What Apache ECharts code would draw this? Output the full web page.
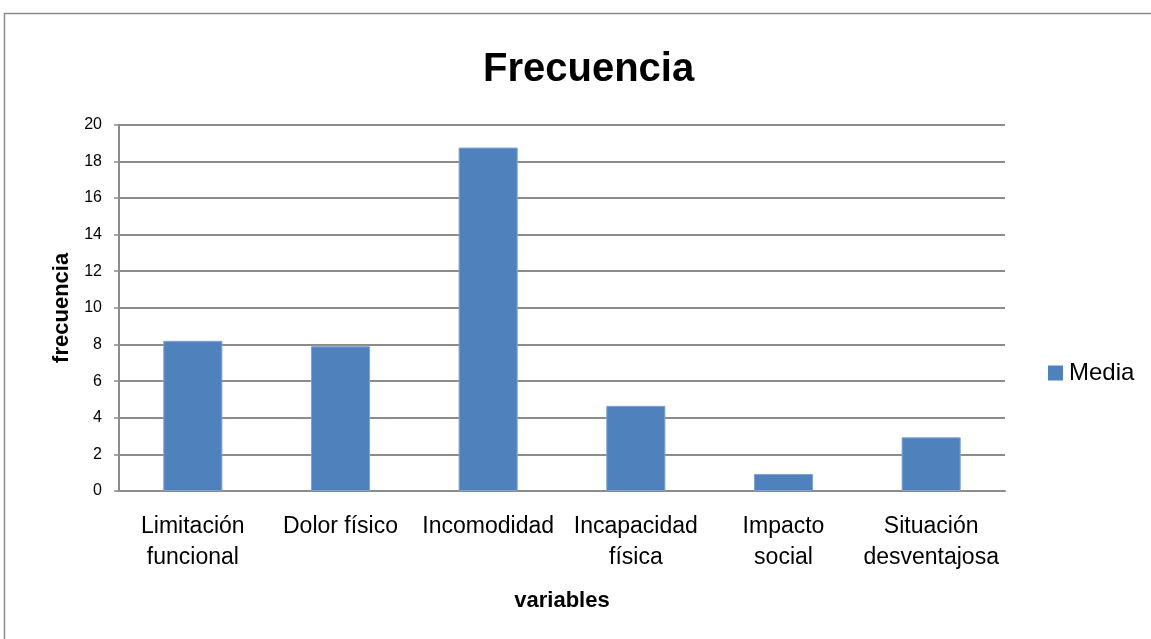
<!DOCTYPE html>
<html>
<head>
<meta charset="utf-8">
<script src="https://cdn.jsdelivr.net/npm/echarts@6/dist/echarts.min.js"></script>
<style>
  html, body { margin: 0; padding: 0; background: #ffffff; }
  #chart { width: 1151px; height: 639px; }
</style>
</head>
<body>
<div id="chart"></div>
<script>
// Categories and mean frequency per variable
const categories = [
  'Limitación\nfuncional',
  'Dolor físico',
  'Incomodidad',
  'Incapacidad\nfísica',
  'Impacto\nsocial',
  'Situación\ndesventajosa'
];
const media = [8.2, 7.9, 18.75, 4.65, 0.93, 2.93];
const seriesName = 'Media';
const yTicks = { min: 0, max: 20, interval: 2 };

const FONT = '"Liberation Sans", Arial, sans-serif';
const chart = echarts.init(document.getElementById('chart'), null, { renderer: 'canvas' });

chart.setOption({
  animation: false,
  backgroundColor: '#ffffff',
  textStyle: { fontFamily: FONT },
  graphic: [{
    type: 'rect',
    shape: { x: 4.5, y: 13.5, width: 1300, height: 800 },
    style: { fill: 'none', stroke: '#8c8c8c', lineWidth: 1.5 },
    silent: true
  }],
  title: {
    text: 'Frecuencia',
    left: 478,
    top: 45,
    textStyle: { fontFamily: FONT, fontSize: 40, fontWeight: 'bold', color: '#000000' }
  },
  legend: {
    data: [seriesName],
    left: 1043,
    top: 356,
    orient: 'vertical',
    icon: 'rect',
    itemWidth: 15,
    itemHeight: 15,
    itemGap: 6,
    itemStyle: { borderWidth: 0 },
    textStyle: { fontFamily: FONT, fontSize: 24, color: '#000000', padding: [0, 0, 0, 1] }
  },
  grid: {
    left: 119,
    right: 146,
    top: 124.7,
    bottom: 148,
    containLabel: false
  },
  xAxis: {
    type: 'category',
    data: categories,
    name: 'variables',
    nameLocation: 'middle',
    nameGap: 99,
    nameTextStyle: { fontFamily: FONT, fontSize: 22, fontWeight: 'bold', color: '#000000' },
    axisLine: { show: true, lineStyle: { color: '#8c8c8c', width: 2 } },
    axisTick: { show: false },
    axisLabel: {
      interval: 0,
      margin: 20,
      fontFamily: FONT,
      fontSize: 23,
      lineHeight: 31,
      color: '#000000',
      align: 'center'
    }
  },
  yAxis: {
    type: 'value',
    min: yTicks.min,
    max: yTicks.max,
    interval: yTicks.interval,
    name: 'frecuencia',
    nameLocation: 'middle',
    nameGap: 46,
    nameRotate: 90,
    nameTextStyle: { fontFamily: FONT, fontSize: 22, fontWeight: 'bold', color: '#000000' },
    axisLine: { show: true, lineStyle: { color: '#8c8c8c', width: 2 } },
    axisTick: { show: true, length: 5, lineStyle: { color: '#8c8c8c', width: 1.5 } },
    axisLabel: { margin: 17, fontFamily: FONT, fontSize: 16, color: '#000000' },
    splitLine: { show: true, lineStyle: { color: '#8c8c8c', width: 2 } }
  },
  series: [{
    name: seriesName,
    type: 'bar',
    data: media,
    barWidth: '40%',
    itemStyle: { color: '#4f81bd', borderColor: '#7da2d2', borderWidth: 1 }
  }]
});
</script>
</body>
</html>
